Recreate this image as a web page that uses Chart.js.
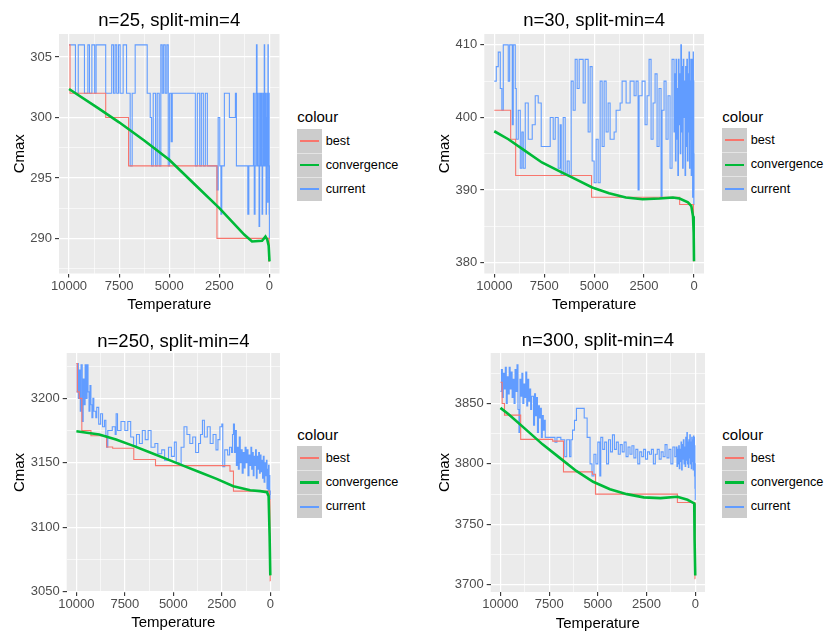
<!DOCTYPE html>
<html>
<head>
<meta charset="utf-8">
<script src="https://cdn.jsdelivr.net/npm/chart.js@4.4.0/dist/chart.umd.min.js"></script>
<style>
  html, body { margin: 0; padding: 0; background: #fff; }
  body { width: 824px; height: 633px; position: relative; overflow: hidden;
         font-family: "Liberation Sans", Arial, sans-serif; }
  canvas { position: absolute; display: block; }
  .lg-title { position: absolute; font-size: 15px; line-height: 20px; color: #000; white-space: nowrap; }
  .lg-key { position: absolute; width: 24.4px; background: #CCCCCC; box-sizing: border-box; }
  .lg-key.sep { border-top: 1px solid #e4e4e4; }
  .lg-line { position: absolute; left: 3px; right: 2.5px; top: 50%; }
  .lg-label { position: absolute; font-size: 12.7px; line-height: 16px; color: #000; white-space: nowrap; }
</style>
</head>
<body>
<canvas id="c1" width="290" height="320" style="left:0px;top:0px"></canvas>
<canvas id="c2" width="300" height="320" style="left:412px;top:0px"></canvas>
<canvas id="c3" width="290" height="313" style="left:0px;top:320px"></canvas>
<canvas id="c4" width="300" height="313" style="left:412px;top:320px"></canvas>
<script>
// ---------------- DATA ----------------
const seriesNames = ['best', 'convergence', 'current'];
const seriesColours = ['#F8766D', '#00BA38', '#619CFF'];
const panelTitles = ['n=25, split-min=4', 'n=30, split-min=4', 'n=250, split-min=4', 'n=300, split-min=4'];

const tempTicks = [0, 2500, 5000, 7500, 10000];
const tempMinorTicks = [1250, 3750, 6250, 8750];

const n25YTicks = [290, 295, 300, 305];
const n25YMinor = [287.5, 292.5, 297.5, 302.5];
const n30YTicks = [380, 390, 400, 410];
const n30YMinor = [385, 395, 405];
const n250YTicks = [3050, 3100, 3150, 3200];
const n250YMinor = [3075, 3125, 3175, 3225];
const n300YTicks = [3700, 3750, 3800, 3850];
const n300YMinor = [3725, 3775, 3825, 3875];

// [temperature, Cmax]
const n25Best = [[10000,306],[9950,302],[8170,300],[7030,296],[2620,290],[15,288.1],[0,288.1]];
const n25Conv = [[10000,302.35],[8530,300.75],[7500,299.6],[6250,298.1],[5000,296.5],[3750,294.5],[2500,292.5],[1250,290.3],[870,289.75],[370,289.8],[200,290.15],[110,289.9],[40,289.4],[0,288.1]];
const n25Current = [[10000,306],[9680,302],[9540,306],[9230,302],[9060,306],[8980,302],[8860,306],[8720,302],[8650,306],[8170,302],[7870,306],[7780,302],[7700,306],[7620,302],[7530,306],[7450,302],[7300,306],[7130,302],[6950,296],[6850,302],[6700,306],[6100,302],[5950,300],[5880,296],[5800,302],[5680,296],[5600,302],[5500,296],[5420,306],[5350,302],[5280,306],[5200,302],[5120,306],[5050,296],[4980,302],[4900,298],[4850,302],[3700,296],[3600,302],[3480,296],[3400,302],[3300,296],[3200,302],[3100,296],[2620,294],[2560,300],[2480,296],[2420,292],[2380,296],[2250,302],[2000,300],[1700,302],[1650,296],[1080,292],[1030,296],[800,302],[760,292],[720,296],[680,302],[650,306],[620,296],[590,302],[560,296],[520,291],[490,302],[460,296],[430,302],[400,296],[370,292],[340,302],[310,296],[280,302],[260,306],[240,296],[215,302],[190,296],[170,292],[150,300],[130,302],[110,296],[90,293],[75,306],[60,296],[45,302],[32,296],[22,302],[15,292],[8,296],[3,290],[0,290]];

const n30Best = [[10000,401],[9180,397],[8930,392],[5130,389],[720,388],[25,385],[12,383],[4,380.2],[0,380.2]];
const n30Conv = [[10000,398.1],[9296,397.0],[8455,395.4],[7615,393.8],[6774,392.65],[5934,391.5],[5093,390.35],[4253,389.57],[3412,388.97],[2572,388.74],[1731,388.83],[1059,388.97],[723,388.83],[303,388.3],[134,387.8],[50,386.4],[17,384.1],[0,380.2]];
const n30Current = [[10000,405],[9900,407],[9800,409],[9700,404],[9620,401],[9550,410],[9300,405],[9230,410],[9100,399],[9050,410],[8950,404],[8900,397],[8800,401],[8700,393],[8620,398],[8550,393],[8450,402],[8300,397],[8100,399],[7950,403],[7800,402],[7650,396],[7200,400],[7050,397],[6950,400],[6800,393],[6700,399],[6650,392],[6550,400],[6450,392],[6350,394],[6250,392],[6150,405],[6050,401],[5950,408],[5850,404],[5750,408],[5550,402],[5450,408],[5300,398],[5200,407],[5100,394],[5000,391],[4900,397],[4800,391],[4700,405],[4600,396],[4500,405],[4400,398],[4300,402],[4200,397],[4000,398],[3900,401],[3700,402],[3600,405],[3400,402],[3200,405],[3000,403],[2900,405],[2800,390],[2750,403],[2600,405],[2450,399],[2350,403],[2250,408],[2150,397],[2050,402],[1950,406],[1850,396],[1750,404],[1650,389],[1600,401],[1500,405],[1400,397],[1300,403],[1200,393],[1100,408],[1000,398],[960,406],[930,394],[900,408],[870,397],[840,404],[810,392],[780,408],[750,399],[720,406],[690,395],[660,410],[630,398],[600,407],[570,393],[540,408],[510,400],[480,405],[450,392],[420,407],[390,396],[360,408],[330,394],[300,406],[275,398],[250,409],[225,393],[200,405],[180,397],[160,408],[140,392],[120,406],[100,396],[85,408],[70,389],[55,403],[42,409],[30,393],[20,405],[12,388],[5,395],[0,390]];

const n250Best = [[10000,3227],[9950,3205],[9850,3200],[9720,3175],[9250,3171],[8440,3162.3],[8130,3161.3],[7040,3152.5],[5920,3147.8],[2080,3143.5],[1900,3128],[40,3121.5],[15,3095],[5,3058.2],[0,3058.2]];
const n250Conv = [[10000,3174.4],[8823,3171.9],[7958,3168],[7093,3163.3],[6228,3158.2],[5363,3153],[4498,3147.8],[3633,3142.7],[2768,3137.5],[1903,3131.8],[1038,3128.7],[519,3128],[173,3127.2],[87,3124.1],[35,3093],[0,3062.6]];
const n250Current = [[10000,3205],[9960,3227],[9900,3200],[9850,3222],[9800,3190],[9760,3226],[9700,3182],[9650,3215],[9600,3195],[9550,3226],[9500,3200],[9450,3226],[9400,3205],[9350,3190],[9300,3210],[9250,3195],[9200,3185],[9150,3200],[9100,3190],[9000,3185],[8950,3193],[8850,3180],[8750,3188],[8650,3178],[8550,3183],[8480,3170],[8440,3162],[8380,3175],[8150,3178],[8000,3172],[7950,3188],[7880,3175],[7700,3182],[7500,3175],[7350,3182],[7200,3170],[7050,3163],[6900,3172],[6750,3165],[6600,3175],[6450,3168],[6300,3175],[6150,3162],[5950,3165],[5800,3157],[5600,3160],[5450,3152],[5250,3162],[5100,3155],[4950,3166],[4850,3150],[4700,3148],[4600,3162],[4450,3178],[4300,3172],[4150,3165],[4000,3170],[3850,3158],[3700,3165],[3600,3172],[3500,3183],[3400,3170],[3250,3178],[3100,3165],[2950,3172],[2800,3160],[2700,3168],[2600,3178],[2500,3180],[2450,3147],[2350,3160],[2200,3156],[2100,3162],[2000,3158],[1950,3172],[1900,3180],[1850,3158],[1800,3175],[1750,3148],[1700,3162],[1650,3145],[1600,3170],[1550,3150],[1500,3160],[1450,3142],[1400,3158],[1350,3146],[1300,3162],[1250,3150],[1200,3160],[1150,3140],[1100,3156],[1050,3148],[1000,3162],[960,3145],[920,3158],[880,3140],[840,3155],[800,3148],[760,3160],[720,3138],[680,3155],[640,3145],[600,3158],[560,3142],[520,3156],[480,3143],[440,3152],[400,3138],[360,3155],[320,3135],[280,3150],[240,3140],[200,3152],[170,3130],[140,3145],[115,3128],[90,3148],[65,3125],[45,3140],[25,3122],[12,3128],[0,3125]];

const n300Best = [[10000,3867.6],[9913,3850],[9792,3840.4],[8961,3820.3],[7318,3818.9],[6764,3793.4],[5277,3791.5],[5121,3775],[917,3768.1],[15,3705],[0,3705]];
const n300Conv = [[10000,3846.4],[9567,3840.9],[8702,3828.6],[7837,3816.2],[6972,3805.2],[6107,3794.2],[5242,3785.2],[4377,3779.1],[3512,3775],[2647,3772.3],[1782,3771.7],[917,3772.8],[398,3770.3],[52,3767.3],[35,3737.9],[0,3707.7]];
const n300Current = [[10000,3860],[9950,3878],[9900,3855],[9850,3875],[9800,3862],[9750,3880],[9700,3850],[9650,3872],[9600,3858],[9550,3880],[9500,3862],[9450,3876],[9400,3855],[9350,3870],[9300,3850],[9250,3878],[9200,3860],[9150,3882],[9100,3845],[9050,3826],[9000,3870],[8950,3856],[8900,3875],[8850,3850],[8800,3866],[8750,3855],[8700,3876],[8650,3848],[8600,3870],[8550,3852],[8500,3862],[8450,3845],[8400,3856],[8300,3832],[8250,3858],[8200,3840],[8150,3855],[8100,3826],[8050,3848],[8000,3838],[7950,3846],[7900,3822],[7850,3840],[7800,3828],[7750,3836],[7700,3822],[7200,3818],[7100,3822],[6900,3820],[6700,3806],[6600,3820],[6450,3806],[6380,3820],[6300,3828],[6200,3836],[6100,3846],[5700,3838],[5550,3822],[5400,3800],[5300,3790],[5200,3808],[5100,3800],[5000,3818],[4900,3790],[4850,3822],[4750,3812],[4650,3818],[4550,3800],[4450,3820],[4350,3810],[4250,3824],[4150,3812],[4050,3818],[3950,3808],[3850,3816],[3750,3810],[3650,3818],[3550,3806],[3450,3814],[3350,3808],[3250,3815],[3150,3805],[3050,3812],[2950,3800],[2850,3810],[2750,3806],[2650,3812],[2550,3804],[2450,3810],[2350,3808],[2250,3812],[2150,3800],[2050,3808],[1950,3812],[1850,3804],[1750,3810],[1650,3806],[1550,3816],[1450,3805],[1350,3812],[1250,3800],[1150,3814],[1050,3806],[1000,3806],[970,3814],[940,3798],[910,3812],[880,3800],[850,3815],[820,3796],[790,3812],[760,3802],[730,3818],[700,3795],[670,3816],[640,3804],[610,3820],[580,3800],[550,3814],[520,3798],[490,3822],[460,3803],[430,3826],[405,3800],[380,3818],[355,3797],[330,3820],[305,3805],[280,3824],[255,3800],[230,3818],[205,3796],[180,3822],[155,3802],[130,3820],[110,3795],[90,3823],[72,3805],[55,3822],[40,3790],[28,3815],[18,3780],[8,3800],[0,3770]];

// ---------------- LAYOUT / STYLE ----------------
Chart.defaults.font.family = '"Liberation Sans", Arial, sans-serif';

const panels = [
  { id: 'c1', title: panelTitles[0], best: n25Best, conv: n25Conv, cur: n25Current, yMajor: n25YTicks, yMinor: n25YMinor,
    yMin: 287.1, yMax: 306.9, yW: 59, padR: 10.5, tTop: 9.7, tBot: 2.1, xH: 46.5, xTitlePad: 6, yTitlePad: 11 },
  { id: 'c2', title: panelTitles[1], best: n30Best, conv: n30Conv, cur: n30Current, yMajor: n30YTicks, yMinor: n30YMinor,
    yMin: 378.5, yMax: 411.5, yW: 72.3, padR: 8, tTop: 9.7, tBot: 2.1, xH: 46.5, xTitlePad: 6, yTitlePad: 24 },
  { id: 'c3', title: panelTitles[2], best: n250Best, conv: n250Conv, cur: n250Current, yMajor: n250YTicks, yMinor: n250YMinor,
    yMin: 3049.7, yMax: 3235.2, yW: 66.7, padR: 10, tTop: 10.6, tBot: 0.2, xH: 41, xTitlePad: 1, yTitlePad: 11 },
  { id: 'c4', title: panelTitles[3], best: n300Best, conv: n300Conv, cur: n300Current, yMajor: n300YTicks, yMinor: n300YMinor,
    yMin: 3694, yMax: 3891.8, yW: 78.7, padR: 7, tTop: 10.2, tBot: 0.6, xH: 41, xTitlePad: 0.5, yTitlePad: 24 }
];

const legends = [
  { x: 297.3, titleCy: 116.7, keysTop: 128.5, rowH: 24.1 },
  { x: 722.3, titleCy: 116.7, keysTop: 128.0, rowH: 24.2 },
  { x: 297.3, titleCy: 435.0, keysTop: 445.5, rowH: 24.3 },
  { x: 722.3, titleCy: 435.0, keysTop: 445.7, rowH: 24.2 }
];

const panelBg = {
  id: 'panelBg',
  beforeDraw(chart) {
    const { ctx, chartArea: a } = chart;
    ctx.save();
    ctx.fillStyle = '#EBEBEB';
    ctx.fillRect(a.left, a.top, a.right - a.left, a.bottom - a.top);
    ctx.restore();
  }
};

function toXY(pairs) { return pairs.map(p => ({ x: p[0], y: p[1] })); }

function gridOpts(major) {
  const isMajor = ctx => ctx.tick && major.includes(ctx.tick.value);
  return {
    color: '#FFFFFF',
    lineWidth: ctx => isMajor(ctx) ? 1.2 : 0.6,
    tickColor: ctx => isMajor(ctx) ? '#333333' : 'rgba(0,0,0,0)',
    tickWidth: 1.1,
    tickLength: 4,
    drawOnChartArea: true,
    drawTicks: true
  };
}

function makePanel(p) {
  const xAll = tempTicks.concat(tempMinorTicks).sort((a, b) => a - b);
  const yAll = p.yMajor.concat(p.yMinor).sort((a, b) => a - b);
  new Chart(document.getElementById(p.id), {
    type: 'line',
    data: {
      datasets: [
        { label: seriesNames[1], data: toXY(p.conv), borderColor: seriesColours[1], borderWidth: 2.6,
          pointRadius: 0, tension: 0, fill: false },
        { label: seriesNames[0], data: toXY(p.best), borderColor: seriesColours[0], borderWidth: 1.1,
          pointRadius: 0, stepped: true, fill: false },
        { label: seriesNames[2], data: toXY(p.cur), borderColor: seriesColours[2], borderWidth: 1.1,
          pointRadius: 0, stepped: true, fill: false }
      ]
    },
    options: {
      responsive: false,
      animation: false,
      events: [],
      devicePixelRatio: 1,
      layout: { padding: { left: 0, right: p.padR, top: 0, bottom: 0 } },
      plugins: {
        legend: { display: false },
        tooltip: { enabled: false },
        title: {
          display: true, text: p.title, fullSize: false, align: 'center', color: '#000',
          font: { size: 18.5, weight: 'normal', lineHeight: 1.2 },
          padding: { top: p.tTop, bottom: p.tBot }
        }
      },
      scales: {
        x: {
          type: 'linear', reverse: true, min: -500, max: 10500, bounds: 'data',
          afterBuildTicks: ax => { ax.ticks = xAll.map(v => ({ value: v })); },
          afterFit: ax => { ax.height = p.xH; },
          ticks: { autoSkip: false, maxRotation: 0, minRotation: 0, padding: 1, color: '#4D4D4D',
                   font: { size: 13, lineHeight: 1.2 },
                   callback: v => tempTicks.includes(v) ? String(v) : '' },
          grid: gridOpts(tempTicks),
          border: { display: false },
          title: { display: true, text: 'Temperature', color: '#000',
                   font: { size: 15, lineHeight: 1.2 }, padding: { top: 0, bottom: p.xTitlePad } }
        },
        y: {
          type: 'linear', min: p.yMin, max: p.yMax, bounds: 'data',
          afterBuildTicks: ax => { ax.ticks = yAll.map(v => ({ value: v })); },
          afterFit: ax => { ax.width = p.yW; },
          ticks: { autoSkip: false, padding: 3, color: '#4D4D4D', font: { size: 13, lineHeight: 1.2 },
                   callback: v => p.yMajor.includes(v) ? String(v) : '' },
          grid: gridOpts(p.yMajor),
          border: { display: false },
          title: { display: true, text: 'Cmax', color: '#000',
                   font: { size: 15, lineHeight: 1.2 }, padding: { top: p.yTitlePad, bottom: 0 } }
        }
      }
    },
    plugins: [panelBg]
  });
}

function makeLegend(L) {
  const t = document.createElement('div');
  t.className = 'lg-title';
  t.textContent = 'colour';
  t.style.left = L.x + 'px';
  t.style.top = (L.titleCy - 10) + 'px';
  document.body.appendChild(t);
  seriesNames.forEach((name, i) => {
    const k = document.createElement('div');
    k.className = 'lg-key' + (i > 0 ? ' sep' : '');
    k.style.left = L.x + 'px';
    k.style.top = (L.keysTop + i * L.rowH) + 'px';
    k.style.height = L.rowH + 'px';
    const ln = document.createElement('div');
    ln.className = 'lg-line';
    const lw = i === 1 ? 2.4 : 2;
    ln.style.height = lw + 'px';
    ln.style.marginTop = (-lw / 2) + 'px';
    ln.style.background = seriesColours[i];
    k.appendChild(ln);
    document.body.appendChild(k);
    const lab = document.createElement('div');
    lab.className = 'lg-label';
    lab.textContent = name;
    lab.style.left = (L.x + 28.4) + 'px';
    lab.style.top = (L.keysTop + (i + 0.5) * L.rowH - 8) + 'px';
    document.body.appendChild(lab);
  });
}

panels.forEach(makePanel);
legends.forEach(makeLegend);
</script>
</body>
</html>
